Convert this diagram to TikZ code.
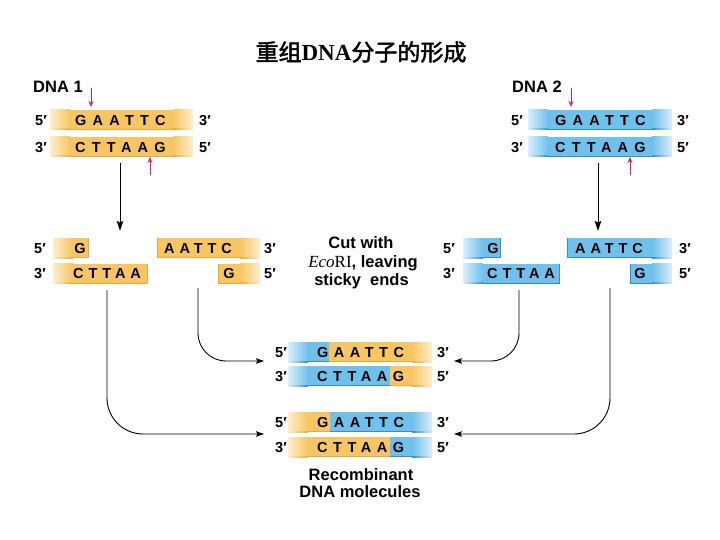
\documentclass[tikz,border=0pt]{standalone}
\usepackage{fontspec}
\setmainfont{Liberation Serif}
\newfontfamily\hv{Liberation Sans}
\newfontfamily\cjk{Noto Sans CJK SC}[FakeBold=2]
\usetikzlibrary{arrows.meta}
\definecolor{oM}{RGB}{247,198,98}
\definecolor{oL}{RGB}{253,238,205}
\definecolor{oD}{RGB}{232,172,62}
\definecolor{bM}{RGB}{112,192,236}
\definecolor{bL}{RGB}{218,238,251}
\definecolor{bD}{RGB}{55,140,205}
\definecolor{pink}{RGB}{205,30,120}
\newcommand\seg[8]{%
  \pgfmathsetmacro\sxa{#1+(#7)*20}%
  \pgfmathsetmacro\sxb{#2-(#8)*20}%
  \fill[#6] (\sxa-0.4,#3) rectangle (\sxb+0.4,#4);
  \ifnum#7=1 \shade[left color=#5,right color=#6] (#1,#3) rectangle (\sxa,#4);\fi
  \ifnum#8=1 \shade[left color=#6,right color=#5] (\sxb,#3) rectangle (#2,#4);\fi
}
\newcommand\dnabar[6]{%
  \seg{#1}{#2}{#3-10}{#3+10}{#4L}{#4M}{#5}{#6}
  \seg{#1}{#2}{#3+9}{#3+10}{#4L}{#4D}{#5}{#6}
  \ifnum#5=0 \fill[#4D] (#1,#3-10) rectangle (#1+1,#3+10);\fi
  \ifnum#6=0 \fill[#4D] (#2-1,#3-10) rectangle (#2,#3+10);\fi
}
\newcommand\recbar[6]{%
  \seg{#1}{#2}{#4-10}{#4+10}{#5L}{#5M}{1}{0}
  \seg{#1}{#2}{#4+9}{#4+10}{#5L}{#5D}{1}{0}
  \seg{#2}{#3}{#4-10}{#4+10}{#6L}{#6M}{0}{1}
  \seg{#2}{#3}{#4+9}{#4+10}{#6L}{#6D}{0}{1}
}
\tikzset{
  lbl/.style={inner sep=0pt, font=\hv\bfseries\fontsize{16.5}{19}\selectfont},
  pr/.style={inner sep=0pt, anchor=base, font=\hv\bfseries\fontsize{14.5}{17}\selectfont},
  seqA/.style={inner sep=0pt, anchor=base west, font=\hv\bfseries\fontsize{14.5}{17}\selectfont\addfontfeatures{LetterSpace=43}},
  seqB/.style={inner sep=0pt, anchor=base west, font=\hv\bfseries\fontsize{14.5}{17}\selectfont\addfontfeatures{LetterSpace=34}},
  seqC/.style={inner sep=0pt, anchor=base west, font=\hv\bfseries\fontsize{14.5}{17}\selectfont\addfontfeatures{LetterSpace=38}},
  seq1/.style={inner sep=0pt, anchor=base, font=\hv\bfseries\fontsize{14.5}{17}\selectfont},
  parr/.style={pink, line width=1pt, -{Stealth[length=6pt,width=5pt]}},
  darr/.style={black, line width=1pt, -{Stealth[length=10pt,width=6.5pt,inset=1.5pt]}},
  carr/.style={black, line width=0.9pt, -{Stealth[length=8pt,width=5.5pt,inset=1.5pt]}},
}
\begin{document}
\begin{tikzpicture}[x=1pt,y=-1pt]
\path[use as bounding box, fill=white] (0,0) rectangle (720,540);
% title
\node[inner sep=0pt, anchor=center] (title) at (361,52) {\fontsize{23}{26}\selectfont{\cjk 重组}{\bfseries DNA}{\cjk 分子的形成}};
% labels
\node[lbl, anchor=base west] (dna1) at (33,93) {DNA 1};
\node[lbl, anchor=base west] (dna2) at (512,93) {DNA 2};
% row A bars
\dnabar{50}{193}{120}{o}{1}{1}
\dnabar{50}{193}{147}{o}{1}{1}
\dnabar{528}{672}{120}{b}{1}{1}
\dnabar{528}{672}{147}{b}{1}{1}
% row B bars
\dnabar{53}{89}{248}{o}{1}{0}
\dnabar{157}{260}{248}{o}{0}{1}
\dnabar{53}{148}{273.5}{o}{1}{0}
\dnabar{218}{260}{273.5}{o}{0}{1}
\dnabar{463}{501}{248}{b}{1}{0}
\dnabar{567}{672}{248}{b}{0}{1}
\dnabar{463}{560}{273.5}{b}{1}{0}
\dnabar{630}{672}{273.5}{b}{0}{1}
% recombinant bars
\recbar{288}{329}{432}{352}{b}{o}
\recbar{288}{390}{432}{376}{b}{o}
\recbar{288}{330}{432}{422}{o}{b}
\recbar{288}{390}{432}{447}{o}{b}
% row A text
\node[pr] (a1p1) at (41,125.2) {5′};
\node[seqA] (a1s1) at (75,125.2) {GAATTC};
\node[pr] (a1p2) at (205,125.2) {3′};
\node[pr] (a1p3) at (41,152.2) {3′};
\node[seqA] (a1s2) at (75,152.2) {CTTAAG};
\node[pr] (a1p4) at (205,152.2) {5′};
\node[pr] (a2p1) at (517,125.2) {5′};
\node[seqA] (a2s1) at (555,125.2) {GAATTC};
\node[pr] (a2p2) at (683,125.2) {3′};
\node[pr] (a2p3) at (517,152.2) {3′};
\node[seqA] (a2s2) at (555,152.2) {CTTAAG};
\node[pr] (a2p4) at (683,152.2) {5′};
% row B text
\node[pr] (b1p1) at (40,253.2) {5′};
\node[seq1] (b1g1) at (80,253.2) {G};
\node[seqB] (b1s1) at (164,253.2) {AATTC};
\node[pr] (b1p2) at (270,253.2) {3′};
\node[pr] (b1p3) at (40,278.7) {3′};
\node[seqB] (b1s2) at (73,278.7) {CTTAA};
\node[seq1] (b1g2) at (229,278.7) {G};
\node[pr] (b1p4) at (270,278.7) {5′};
\node[pr] (b2p1) at (449,253.2) {5′};
\node[seq1] (b2g1) at (493,253.2) {G};
\node[seqB] (b2s1) at (575,253.2) {AATTC};
\node[pr] (b2p2) at (685,253.2) {3′};
\node[pr] (b2p3) at (449,278.7) {3′};
\node[seqB] (b2s2) at (487,278.7) {CTTAA};
\node[seq1] (b2g2) at (640,278.7) {G};
\node[pr] (b2p4) at (685,278.7) {5′};
% cut label
\node[lbl, anchor=base] (cut1) at (361,248.5) {Cut with};
\node[lbl, anchor=base] (cut2) at (363,267) {{\rmfamily\mdseries\fontsize{17}{19}\selectfont\itshape Eco\upshape RI}, leaving};
\node[lbl, anchor=base] (cut3) at (361.5,285.5) {sticky\ \ ends};
% recombinant text
\node[pr] (c1p1) at (281,357.2) {5′};
\node[seqC] (c1s1) at (317,357.2) {GAATTC};
\node[pr] (c1p2) at (443,357.2) {3′};
\node[pr] (c1p3) at (281,381.2) {3′};
\node[seqC] (c1s2) at (317,381.2) {CTTAAG};
\node[pr] (c1p4) at (443,381.2) {5′};
\node[pr] (d1p1) at (281,427.2) {5′};
\node[seqC] (d1s1) at (317,427.2) {GAATTC};
\node[pr] (d1p2) at (443,427.2) {3′};
\node[pr] (d1p3) at (281,452.2) {3′};
\node[seqC] (d1s2) at (317,452.2) {CTTAAG};
\node[pr] (d1p4) at (443,452.2) {5′};
\node[lbl, anchor=base] (rec1) at (361,480) {Recombinant};
\node[lbl, anchor=base] (rec2) at (360,497) {DNA molecules};
% pink arrows
\coordinate (pa1) at (91,88); \coordinate (pa2) at (91,107);
\coordinate (pb1) at (150,175); \coordinate (pb2) at (150,157);
\coordinate (pc1) at (571,88); \coordinate (pc2) at (571,107);
\coordinate (pd1) at (630,175); \coordinate (pd2) at (630,157);
\draw[parr] (pa1) -- (pa2);
\draw[parr] (pb1) -- (pb2);
\draw[parr] (pc1) -- (pc2);
\draw[parr] (pd1) -- (pd2);
% down arrows
\coordinate (v1s) at (120,163); \coordinate (v1e) at (120,231);
\coordinate (v2s) at (598,163); \coordinate (v2e) at (598,231);
\draw[darr] (v1s) -- (v1e);
\draw[darr] (v2s) -- (v2e);
% curved arrows
\coordinate (c1s) at (198,288); \coordinate (r1L) at (264,361);
\coordinate (c2s) at (107,290); \coordinate (r2L) at (264,434);
\coordinate (c3s) at (519,290); \coordinate (r1R) at (454,361);
\coordinate (c4s) at (610,288); \coordinate (r2R) at (454,434);
\draw[carr, rounded corners=28pt] (c1s) |- (r1L);
\draw[carr, rounded corners=36pt] (c2s) |- (r2L);
\draw[carr, rounded corners=28pt] (c3s) |- (r1R);
\draw[carr, rounded corners=36pt] (c4s) |- (r2R);
\end{tikzpicture}
\end{document}
